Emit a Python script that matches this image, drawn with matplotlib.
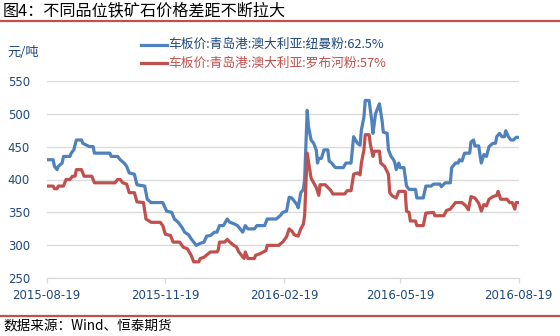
import matplotlib
matplotlib.use("Agg")
import matplotlib.pyplot as plt
from matplotlib.lines import Line2D
import pandas as pd

plt.rcParams['font.family'] = ['Noto Sans CJK SC', 'DejaVu Sans']

start_date = "2015-08-19"
tick_dates = ["2015-08-19", "2015-11-19", "2016-02-19", "2016-05-19", "2016-08-19"]
y_ticks = [250, 300, 350, 400, 450, 500, 550]

title = "图4：不同品位铁矿石价格差距不断拉大"
unit = "元/吨"
source = "数据来源：Wind、恒泰期货"
name_blue = "车板价:青岛港:澳大利亚:纽曼粉:62.5%"
name_red = "车板价:青岛港:澳大利亚:罗布河粉:57%"

# days after start_date, price (元/吨)
blue_days = [1, 5, 6, 8, 9, 12, 13, 18, 19, 21, 23, 27, 28, 31, 33, 36, 37, 49, 50, 55,
             57, 60, 62, 64, 68, 70, 76, 78, 81, 90, 93, 97, 99, 102, 105, 107, 110, 112, 116, 119,
             122, 124, 127, 130, 132, 134, 137, 140, 142, 145, 148, 150, 152, 154, 156, 161, 163, 169, 171, 178,
             181, 183, 186, 188, 190, 192, 194, 195, 197, 199, 200, 202, 203, 205, 207, 209, 210, 211, 213, 215,
             218, 219, 221, 223, 224, 230, 232, 236, 238, 241, 243, 244, 246, 247, 250, 252, 253, 255, 256, 258,
             260, 261, 264, 265, 267, 269, 270, 271, 273, 274, 277, 279, 281, 286, 287, 292, 294, 298, 300, 305,
             306, 309, 313, 314, 317, 319, 320, 322, 324, 328, 329, 331, 332, 335, 336, 337, 339, 341, 343, 346,
             348, 349, 351, 353, 355, 356, 358, 360, 362, 364, 366]
blue_vals = [430, 430, 420, 415, 420, 425, 435, 435, 440, 445, 460, 460, 455, 452, 450, 450, 440, 440, 435, 435,
             430, 425, 420, 410, 408, 392, 390, 370, 365, 365, 352, 350, 340, 335, 327, 320, 316, 310, 300, 303,
             305, 314, 315, 320, 320, 330, 330, 340, 335, 333, 330, 325, 320, 330, 325, 325, 330, 330, 340, 340,
             345, 350, 352, 373, 372, 367, 362, 357, 380, 385, 400, 505, 480, 460, 455, 445, 425, 432, 432, 445,
             445, 428, 425, 420, 418, 418, 425, 425, 465, 455, 452, 475, 495, 520, 520, 490, 470, 500, 505, 515,
             490, 472, 470, 445, 435, 430, 425, 415, 425, 418, 418, 390, 385, 385, 372, 372, 390, 390, 393, 393,
             389, 395, 395, 418, 425, 425, 430, 428, 440, 440, 457, 460, 451, 451, 437, 425, 438, 435, 450, 455,
             455, 465, 470, 465, 465, 474, 465, 460, 460, 464, 464]

red_days = [1, 5, 6, 8, 9, 13, 15, 18, 20, 22, 23, 27, 29, 35, 37, 53, 55, 57, 59, 62,
            64, 68, 70, 75, 77, 81, 88, 90, 92, 96, 98, 103, 106, 109, 112, 114, 118, 119, 122, 125,
            127, 132, 133, 134, 138, 140, 142, 145, 147, 149, 151, 153, 154, 156, 161, 162, 165, 168, 170, 171,
            180, 181, 183, 186, 188, 190, 192, 195, 197, 199, 200, 202, 204, 205, 207, 209, 211, 212, 216, 218,
            220, 222, 231, 233, 236, 238, 241, 243, 244, 246, 247, 250, 251, 253, 254, 258, 259, 262, 265, 266,
            268, 271, 273, 278, 279, 281, 282, 286, 287, 292, 294, 300, 301, 308, 310, 313, 315, 317, 322, 325,
            327, 329, 332, 335, 337, 339, 341, 343, 346, 349, 350, 352, 357, 359, 361, 363, 364, 366]
red_vals = [390, 390, 386, 386, 390, 390, 400, 400, 405, 405, 415, 415, 405, 405, 395, 395, 400, 400, 395, 393,
            380, 380, 366, 365, 340, 335, 335, 330, 317, 315, 305, 305, 297, 295, 285, 275, 275, 280, 282, 287,
            290, 290, 293, 305, 305, 309, 305, 300, 298, 290, 285, 280, 290, 280, 280, 285, 287, 290, 292, 300,
            300, 302, 305, 313, 325, 322, 316, 314, 325, 332, 345, 440, 415, 402, 395, 388, 376, 392, 392, 388,
            384, 378, 378, 383, 383, 408, 410, 407, 425, 445, 468, 468, 453, 435, 443, 443, 425, 420, 408, 380,
            375, 372, 382, 382, 352, 350, 337, 337, 330, 330, 349, 350, 345, 345, 353, 355, 360, 365, 365, 360,
            354, 374, 372, 364, 352, 362, 360, 370, 374, 376, 382, 370, 370, 365, 365, 355, 365, 365]

C_BLUE = "#4F81BD"
C_RED = "#C0504D"
C_NAVY = "#1F497D"
C_GRID = "#D9D9D9"

t0 = pd.Timestamp(start_date)
blue_x = [t0 + pd.Timedelta(days=d) for d in blue_days]
red_x = [t0 + pd.Timedelta(days=d) for d in red_days]
ticks = [pd.Timestamp(t) for t in tick_dates]

W, H = 560, 336
fig = plt.figure(figsize=(W / 100, H / 100), dpi=100)
fig.patch.set_facecolor("white")


def fx(px):
    return px / W


def fy(py):
    return 1 - py / H


ax = fig.add_axes([fx(46.7), fy(278.3), (518.7 - 46.7) / W, (278.3 - 80.7) / H])
ax.plot(blue_x, blue_vals, color=C_BLUE, lw=2.3, solid_joinstyle="round")
ax.plot(red_x, red_vals, color=C_RED, lw=2.3, solid_joinstyle="round")

ax.set_xlim(ticks[0], ticks[-1])
ax.set_ylim(y_ticks[0], y_ticks[-1])
ax.set_yticks(y_ticks)
ax.set_xticks(ticks)
ax.set_xticklabels(tick_dates)
ax.grid(axis="y", color=C_GRID, lw=0.9)
ax.set_axisbelow(True)
for s in ["top", "right", "left"]:
    ax.spines[s].set_visible(False)
ax.spines["bottom"].set_color(C_GRID)
ax.spines["bottom"].set_linewidth(0.9)
ax.tick_params(axis="y", length=0, pad=12, labelsize=8.5, labelcolor=C_NAVY)
ax.tick_params(axis="x", length=3.5, width=0.9, color=C_GRID, pad=4, labelsize=8.5, labelcolor=C_NAVY)
for lab in ax.get_xticklabels() + ax.get_yticklabels():
    lab.set_fontfamily("DejaVu Sans")

# title and frame lines
fig.text(fx(3), fy(10.5), title, fontsize=11.6, color="black", va="center", ha="left")
fig.add_artist(Line2D([0, 1], [fy(20.7), fy(20.7)], color=C_RED, lw=1.6))
fig.add_artist(Line2D([0, 1], [fy(315.5), fy(315.5)], color=C_RED, lw=1.6))
fig.text(fx(3), fy(326), source, fontsize=9.8, color="black", va="center", ha="left")

# unit
fig.text(fx(7), fy(53), unit, fontsize=9.5, color=C_NAVY, va="center", ha="left")

# legend
for yy, col, tcol, name in [(44.7, C_BLUE, C_NAVY, name_blue), (62.7, C_RED, C_RED, name_red)]:
    fig.add_artist(Line2D([fx(141), fx(166.5)], [fy(yy), fy(yy)], color=col, lw=2.3))
    fig.text(fx(168), fy(yy), name, fontsize=9.2, color=tcol, va="center", ha="left")

fig.savefig("out.png", dpi=100)
